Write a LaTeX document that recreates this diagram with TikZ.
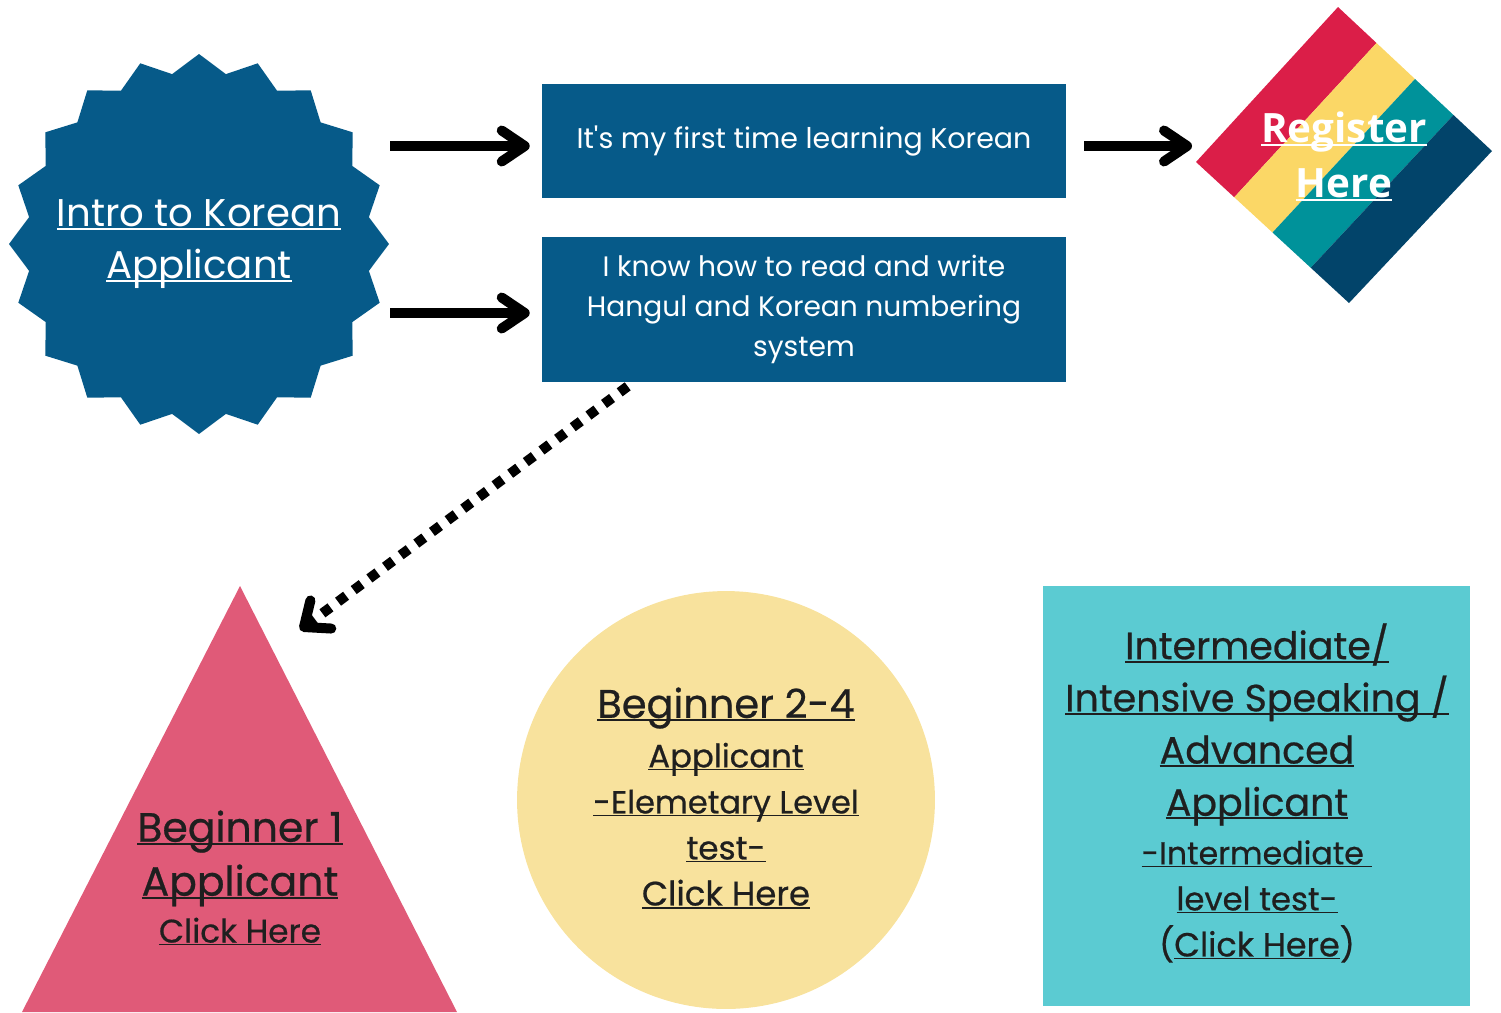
\documentclass[tikz,border=0pt]{standalone}
\usepackage{fontspec}
\setmainfont{Poppins}
\newfontfamily\regfont{Open Sans}
\newfontfamily\darkfont[FakeBold=0.6]{Poppins}
\usetikzlibrary{arrows.meta}
\usetikzlibrary{calc}

\definecolor{koblue}{HTML}{065A89}
\definecolor{kored}{HTML}{DB1E48}
\definecolor{koyellow}{HTML}{FBD766}
\definecolor{koteal}{HTML}{00929A}
\definecolor{konavy}{HTML}{02446A}
\definecolor{kopink}{HTML}{E05A78}
\definecolor{kosand}{HTML}{F8E29D}
\definecolor{kocyan}{HTML}{5BCBD2}
\definecolor{koink}{HTML}{1F1F1F}

\newcommand\lnk[1]{\setbox0\hbox{#1}\rlap{\rule[-0.09em]{\wd0}{0.05em}}\box0}

\begin{document}
\begin{tikzpicture}[x=0.02cm,y=-0.02cm]
\tikzset{>={Straight Barb[length=0.46cm,width=0.62cm,round]}}
\tikzstyle{levelbox}=[rectangle, fill=koblue, text=white, minimum width=10.48cm, inner sep=0pt, align=center]
\tikzstyle{bigarrow}=[->, line width=0.2cm]
\tikzstyle{dotarrow}=[-{Straight Barb[length=0.42cm,width=0.7cm,round]}, line width=0.2cm, dash pattern=on 0.2cm off 0.19cm]
\tikzstyle{darktext}=[text=koink, align=center, inner sep=0pt]

\useasboundingbox (0,0) rectangle (1501,1012);

% start star
\fill[koblue, shift={(199,244)}] plot[samples at={0,...,39}, variable=\k] (\k*9:{181+9*cos(\k*180)}) -- cycle;
\node[text=white, inner sep=0pt, align=center, font=\fontsize{22}{29.6}\selectfont] (intro) at (199,244) {\lnk{Intro to Korean}\\\lnk{Applicant}};

% the two choices
\node[levelbox, minimum height=2.28cm, font=\fontsize{16.2}{22.8}\selectfont] (b1) at (804,141) {It\textquotesingle s my first time learning Korean};
\node[levelbox, minimum height=2.9cm, font=\fontsize{16}{22.8}\selectfont] (b2) at (804,309.5) {I know how to read and write\\Hangul and Korean numbering\\system};

% register diamond
\coordinate (regL) at (1196,162);
\coordinate (regT) at (1338,7);
\coordinate (regR) at (1492,151);
\coordinate (regB) at (1349,303);
\foreach \c [count=\i from 0] in {kored,koyellow,koteal,konavy}{
  \fill[\c] ($(regL)!\i/4!(regB)$) -- ($(regT)!\i/4!(regR)$) -- ($(regT)!\i/4+0.25!(regR)$) -- ($(regL)!\i/4+0.25!(regB)$) -- cycle;
}
\node[text=white, inner sep=0pt, align=center, font=\regfont\bfseries\fontsize{23}{31.3}\selectfont] (reg) at (1344,156) {\lnk{Register}\\\lnk{Here}};

% arrows
\coordinate (a1) at (390,146);
\coordinate (a2) at (390,313);
\coordinate (a3) at (1084,146);
\draw[bigarrow, shorten >=0.24cm] (a1) -- (a1 -| b1.west);
\draw[bigarrow, shorten >=0.24cm] (a2) -- (a2 -| b2.west);
\draw[bigarrow, shorten >=0.08cm] (a3) -- (a3 -| regL);

% levels
\fill[kopink] (240,586) -- (457,1012) -- (22,1012) -- cycle;
\node[darktext, font=\darkfont\fontsize{23.3}{26.7}\selectfont] (beg1) at (240,878) {\lnk{Beginner 1}\\[4pt]\lnk{Applicant}\\{\fontsize{18.6}{26.7}\selectfont\lnk{Click Here}}};

\node[circle, fill=kosand, minimum size=8.36cm, inner sep=0pt] (beg2) at (726,800) {};
\node[darktext, font=\darkfont\fontsize{22.7}{26.2}\selectfont] (beg2t) at (726,798) {\lnk{Beginner 2-4}\\[2pt]{\fontsize{18.4}{26}\selectfont\lnk{Applicant}}\\{\fontsize{18.2}{26}\selectfont\lnk{-Elemetary Level}}\\{\fontsize{18.6}{26}\selectfont\lnk{test-}}\\{\fontsize{19.3}{26}\selectfont\lnk{Click Here}}};

\node[rectangle, fill=kocyan, minimum width=8.54cm, minimum height=8.4cm, inner sep=0pt] (inter) at (1256.5,796) {};
\node[darktext, font=\darkfont\fontsize{21.6}{26.2}\selectfont] (intert) at (1257,793) {\lnk{Intermediate/}\\[3.5pt]\lnk{Intensive Speaking /}\\[3.5pt]\lnk{Advanced}\\[3.5pt]\lnk{Applicant}\\[1.5pt]{\fontsize{18}{26}\selectfont\lnk{-Intermediate }}\\{\fontsize{18.4}{26}\selectfont\lnk{level test-}}\\{\fontsize{19}{26}\selectfont(\lnk{Click Here})}};

% dotted hint
\coordinate (tip) at (300,630);
\draw[dotarrow] ($(b2.south west)+(86,4)$) -- (tip);
\end{tikzpicture}
\end{document}
